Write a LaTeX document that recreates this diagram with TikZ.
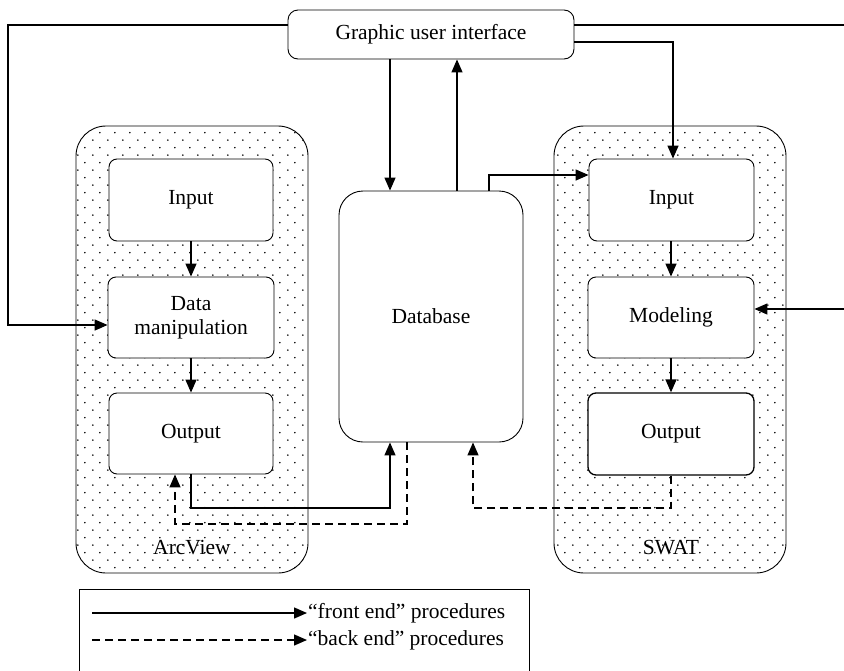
\documentclass[tikz,border=0pt]{standalone}
\usepackage{fontspec}
\setmainfont{Liberation Serif}
\usetikzlibrary{arrows.meta,patterns.meta}
\tikzdeclarepattern{
  name=sdots,
  type=uncolored,
  bottom left={(0pt,0pt)}, top right={(15pt,15.4pt)},
  tile size={(15pt,15.4pt)},
  code={\fill (3pt,3pt) circle (0.9pt); \fill (10.5pt,10.7pt) circle (0.9pt);}
}
\tikzset{
  box/.style={draw, line width=0.9pt, rounded corners=8pt, fill=white, inner sep=0pt, align=center, font=\fontsize{21.5}{24}\selectfont},
  container/.style={draw, line width=0.9pt, rounded corners=30pt, preaction={fill=white}, pattern=sdots, pattern color=black, inner sep=0pt, minimum width=232pt, minimum height=447pt},
  lbl/.style={font=\fontsize{21.5}{24}\selectfont, inner sep=1pt},
  conn/.style={line width=1.4pt},
  arr/.style={conn, -{Triangle[length=13pt,width=11pt]}},
  darr/.style={arr, dash pattern=on 8pt off 5pt},
}
\begin{document}
\begin{tikzpicture}[x=1pt,y=-1pt]
\useasboundingbox (0,0) rectangle (844,670);
% containers
\node[container] (arcview) at (192,349.5) {};
\node[container] (swat) at (670,349.5) {};
\node[lbl] (arclabel) at (192,548) {ArcView};
\node[lbl] (swatlabel) at (671,548) {SWAT};
% boxes
\node[box, rounded corners=10pt, minimum width=286pt, minimum height=49pt] (gui) at (431,34.5) {Graphic user interface};
\node[box, minimum width=164pt, minimum height=82pt] (avin) at (191,200) {Input};
\node[box, minimum width=166pt, minimum height=81pt] (dm) at (191,317.5) {Data\\manipulation};
\node[box, minimum width=164pt, minimum height=81pt] (avout) at (191,433.5) {Output};
\node[box, rounded corners=24pt, minimum width=184pt, minimum height=251pt] (db) at (431,316.5) {Database};
\node[box, minimum width=165pt, minimum height=82pt] (swin) at (671.5,200) {Input};
\node[box, minimum width=166pt, minimum height=81pt] (model) at (671,317.5) {Modeling};
\node[box, line width=1.3pt, minimum width=166pt, minimum height=82pt] (swout) at (671,434) {Output};
% helper coordinates
\coordinate (y25) at (0,25);
\coordinate (y42) at (0,42);
\coordinate (x391) at (390,0);
\coordinate (x457) at (457,0);
\coordinate (x489) at (489,0);
\coordinate (x390) at (390,0);
\coordinate (x407) at (407,0);
\coordinate (x175) at (175,0);
\coordinate (x473) at (473,0);
\coordinate (x673) at (673,0);
\coordinate (rightA) at (844,25);
\coordinate (rightB) at (844,309);
% connectors from GUI
\draw[arr] (gui.west |- y25) -- (8,25) -- (8,325) -- (dm.west |- 0,325);
\draw[conn] (gui.east |- y25) -- (rightA);
\draw[arr] (gui.east |- y42) -- (x673 |- y42) -- (x673 |- swin.north);
\draw[arr] (x391 |- gui.south) -- (x391 |- db.north);
\draw[arr] (x457 |- db.north) -- (x457 |- gui.south);
\draw[arr] (x489 |- db.north) -- (489,175) -- (swin.west |- 0,175);
% ArcView internal
\draw[arr] (avin.south) -- (dm.north);
\draw[arr] (dm.south) -- (avout.north);
\draw[arr] (avout.south) -- (191,508) -- (390,508) -- (x390 |- db.south);
\draw[darr] (x407 |- db.south) -- (407,524) -- (175,524) -- (x175 |- avout.south);
% SWAT internal
\draw[arr] (swin.south -| model.north) -- (model.north);
\draw[arr] (model.south) -- (swout.north);
\draw[darr] (swout.south) -- (671,508) -- (473,508) -- (x473 |- db.south);
\draw[arr] (rightB) -- (model.east |- rightB);
% legend
\draw[line width=0.9pt] (79,672) -- (79,589) -- (529,589) -- (529,672);
\coordinate (l1s) at (92,613);
\coordinate (l2s) at (92,640);
\node[lbl, anchor=west] (l1) at (307,613) {“front end” procedures};
\node[lbl, anchor=west] (l2) at (307,640) {“back end” procedures};
\draw[arr] (l1s) -- (l1.west);
\draw[darr] (l2s) -- (l2.west);
\end{tikzpicture}
\end{document}
